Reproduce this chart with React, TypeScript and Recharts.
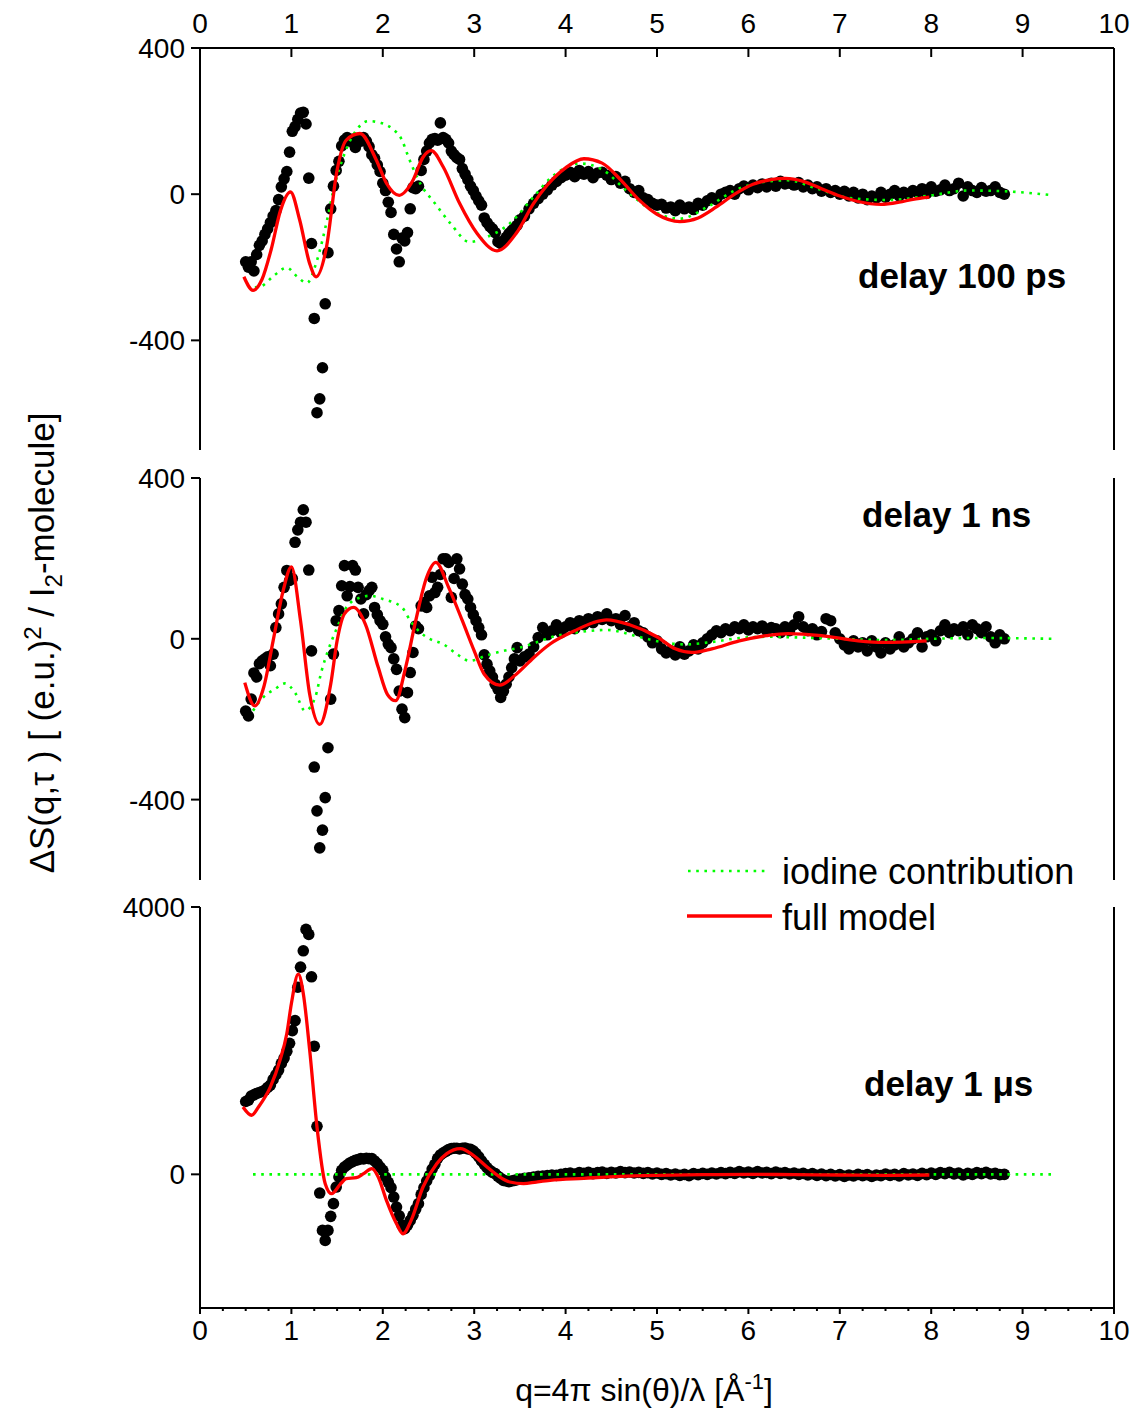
import React from 'react';
import { ComposedChart, Scatter, Line, XAxis, YAxis, ReferenceLine } from 'recharts';

const FONT = '"Liberation Sans", Arial, Helvetica, sans-serif';

// measured q grid (1/Å), shared by the three delays
const qData = [
  0.50, 0.53, 0.56, 0.59, 0.62, 0.65, 0.68, 0.71, 0.74, 0.77,
  0.80, 0.83, 0.86, 0.89, 0.92, 0.95, 0.98, 1.01, 1.04, 1.07,
  1.10, 1.13, 1.16, 1.19, 1.22, 1.25, 1.28, 1.31, 1.34, 1.37,
  1.40, 1.43, 1.46, 1.49, 1.52, 1.55, 1.58, 1.61, 1.64, 1.67,
  1.70, 1.73, 1.76, 1.79, 1.82, 1.85, 1.88, 1.91, 1.94, 1.97,
  2.00, 2.03, 2.06, 2.09, 2.12, 2.15, 2.18, 2.21, 2.24, 2.27,
  2.30, 2.33, 2.36, 2.39, 2.42, 2.45, 2.48, 2.51, 2.54, 2.57,
  2.60, 2.63, 2.66, 2.69, 2.72, 2.75, 2.78, 2.81, 2.84, 2.87,
  2.90, 2.93, 2.96, 2.99, 3.02, 3.05, 3.08, 3.11, 3.14, 3.17,
  3.20, 3.23, 3.26, 3.29, 3.32, 3.35, 3.38, 3.41, 3.44, 3.47,
  3.50, 3.55, 3.60, 3.65, 3.70, 3.75, 3.80, 3.85, 3.90, 3.95,
  4.00, 4.05, 4.10, 4.15, 4.20, 4.25, 4.30, 4.35, 4.40, 4.45,
  4.50, 4.55, 4.60, 4.65, 4.70, 4.75, 4.80, 4.85, 4.90, 4.95,
  5.00, 5.05, 5.10, 5.15, 5.20, 5.25, 5.30, 5.35, 5.40, 5.45,
  5.50, 5.55, 5.60, 5.65, 5.70, 5.75, 5.80, 5.85, 5.90, 5.95,
  6.00, 6.05, 6.10, 6.15, 6.20, 6.25, 6.30, 6.35, 6.40, 6.45,
  6.50, 6.55, 6.60, 6.65, 6.70, 6.75, 6.80, 6.85, 6.90, 6.95,
  7.00, 7.05, 7.10, 7.15, 7.20, 7.25, 7.30, 7.35, 7.40, 7.45,
  7.50, 7.55, 7.60, 7.65, 7.70, 7.75, 7.80, 7.85, 7.90, 7.95,
  8.00, 8.05, 8.10, 8.15, 8.20, 8.25, 8.30, 8.35, 8.40, 8.45,
  8.50, 8.55, 8.60, 8.65, 8.70, 8.75, 8.80,
];

const delay100ps = [
  -185, -200, -185, -210, -165, -140, -128, -110, -95, -78,
  -60, -45, -15, 20, 42, 62, 115, 172, 185, 205,
  222, 224, 192, 44, -135, -340, -598, -560, -475, -300,
  -160, -40, 22, 65, 90, 132, 148, 155, 145, 150,
  128, 150, 145, 155, 145, 130, 108, 98, 80, 62,
  30, 10, -22, -50, -110, -150, -185, -120, -128, -105,
  -40, 18, 15, 22, 65, 95, 118, 140, 150, 152,
  148, 195, 155, 150, 140, 118, 108, 100, 95, 70,
  55, 40, 22, 10, -5, -18, -30, -65, -78, -88,
  -95, -105, -130, -135, -128, -118, -108, -100, -92, -85,
  -70, -60, -40, -25, -12, 0, 12, 25, 35, 45,
  52, 60, 48, 65, 55, 62, 45, 58, 60, 52,
  40, 48, 30, 35, 15, 5, 10, -10, -15, -25,
  -30, -28, -38, -35, -45, -30, -40, -35, -42, -25,
  -30, -18, -10, -15, 0, 5, 10, 0, 15, 22,
  12, 25, 18, 28, 20, 30, 22, 35, 28, 30,
  25, 32, 20, 25, 15, 20, 8, 15, 5, 10,
  0, 8, -5, 5, -10, 0, -15, -5, -10, 5,
  -8, 0, 10, -5, 5, 0, 10, 5, 15, 2,
  20, 8, 12, 25, 10, 15, 30, -5, 20, 10,
  5, 18, 8, 10, 20, 5, 0,
];

const delay1ns = [
  -180, -192, -150, -85, -95, -62, -55, -50, -45, -67,
  -38, 28, 62, 87, 128, 170, 145, 150, 240, 271,
  290, 321, 290, 171, -30, -319, -428, -520, -476, -395,
  -271, -150, -38, 45, 70, 132, 182, 107, 130, 182,
  171, 128, 99, 62, 110, 120, 128, 78, 60, 45,
  36, 5, -13, -22, -50, -76, -130, -175, -196, -134,
  -84, -34, 32, 25, 82, 90, 78, 107, 153, 115,
  128, 160, 199, 199, 190, 103, 150, 199, 174, 136,
  110, 99, 78, 60, 45, 28, 10, -40, -63, -80,
  -95, -113, -125, -146, -130, -113, -95, -72, -50, -22,
  -55, -45, -38, -20, 3, 28, 10, 20, 35, 15,
  30, 40, 25, 45, 35, 50, 40, 55, 48, 62,
  45, 50, 35, 58, 30, 40, 20, 15, 5, -10,
  -5, -25, -35, -30, -40, -20, -38, -30, -15, -25,
  -10, 0, 10, 20, 15, 25, 20, 30, 25, 35,
  22, 30, 25, 32, 20, 28, 25, 15, 30, 20,
  35, 55, 30, 20, 25, 10, 18, 50, 45, 15,
  0, -15, -25, -5, -20, -10, -30, -5, -20, -35,
  -10, -25, -15, 5, -20, -10, 0, 15, -20, 5,
  10, -5, 20, 35, 15, 25, 20, 30, 10, 35,
  25, 15, 30, 5, -10, 10, 0,
];

const delay1us = [
  1090, 1110, 1170, 1190, 1210, 1225, 1240, 1260, 1300, 1335,
  1420, 1490, 1560, 1660, 1740, 1840, 1960, 2150, 2300, 2800,
  3100, 3345, 3665, 3590, 2956, 1917, 719, -280, -839, -989,
  -839, -629, -439, -190, -40, 60, 110, 140, 170, 190,
  210, 220, 235, 230, 240, 235, 235, 200, 160, 110,
  60, -40, -120, -200, -340, -490, -620, -760, -814, -760,
  -690, -614, -520, -439, -300, -200, -100, -20, 80, 150,
  240, 290, 320, 345, 370, 385, 390, 390, 380, 390,
  395, 380, 375, 350, 310, 260, 200, 150, 100, 60,
  30, 10, -30, -60, -90, -100, -110, -100, -90, -80,
  -70, -60, -50, -40, -30, -25, -20, -10, -15, 0,
  10, 20, 5, 25, 15, 30, 10, 25, 35, 15,
  30, 20, 40, 25, 35, 20, 30, 15, 25, 5,
  20, 0, 10, -10, 5, -15, 0, -20, 10, -5,
  15, 0, 20, 5, 25, 10, 30, 15, 40, 20,
  35, 15, 40, 20, 30, 10, 35, 15, 25, 5,
  20, 0, 15, -10, 10, -15, 5, -20, 0, -25,
  -5, -30, -10, -25, 0, -20, -5, -30, -10, -20,
  5, -15, 0, -25, 10, -10, 5, -15, 15, -5,
  20, 0, 25, 10, 30, 5, 20, -10, 15, 0,
  25, 10, 30, 5, 15, -5, 0,
];

// full model curves [q, value]
const model100ps: [number, number][] = [
  [0.48, -226], [0.58, -263], [0.68, -232], [0.78, -150], [0.88, -45], [0.99, 6],
  [1.09, -70], [1.20, -190], [1.27, -226], [1.38, -150], [1.50, 66], [1.60, 148],
  [1.75, 166], [1.93, 93], [2.04, 30], [2.18, -3], [2.33, 38], [2.44, 101],
  [2.53, 119], [2.66, 75], [2.84, -25], [3.03, -107], [3.25, -155], [3.46, -107],
  [3.65, -25], [3.80, 25], [4.00, 72], [4.20, 97], [4.40, 85], [4.60, 40],
  [4.80, -15], [5.00, -55], [5.25, -75], [5.45, -65], [5.65, -35], [5.85, 0],
  [6.05, 27], [6.25, 40], [6.40, 43], [6.60, 35], [6.80, 15], [7.00, -5],
  [7.20, -20], [7.45, -28], [7.65, -22], [7.80, -14], [7.98, -8],
];

const model1ns: [number, number][] = [
  [0.49, -109], [0.60, -167], [0.70, -118], [0.80, -5], [0.91, 120], [1.00, 179],
  [1.10, 45], [1.20, -138], [1.31, -213], [1.43, -113], [1.50, -5], [1.58, 62],
  [1.68, 78], [1.81, 36], [1.95, -71], [2.05, -138], [2.14, -154], [2.25, -71],
  [2.36, 45], [2.48, 153], [2.58, 190], [2.72, 128], [2.87, 45], [3.00, -30],
  [3.11, -88], [3.28, -115], [3.46, -88], [3.65, -47], [3.83, -13], [4.10, 20],
  [4.30, 40], [4.45, 47], [4.70, 35], [5.00, 5], [5.20, -25], [5.38, -34],
  [5.60, -25], [5.90, -5], [6.20, 8], [6.43, 13], [6.80, 8], [7.20, -5],
  [7.48, -9], [7.95, -5],
];

const model1us: [number, number][] = [
  [0.47, 1008], [0.565, 884], [0.64, 1008], [0.77, 1308], [0.875, 1708], [0.95, 2108],
  [1.00, 2557], [1.075, 2996], [1.13, 2707], [1.20, 1858], [1.28, 709], [1.37, -140],
  [1.44, -290], [1.54, -140], [1.60, -65], [1.71, -50], [1.79, 10], [1.88, 85],
  [1.95, -40], [2.04, -390], [2.15, -739], [2.22, -889], [2.31, -689], [2.44, -190],
  [2.59, 160], [2.70, 310], [2.85, 385], [2.99, 285], [3.14, 110], [3.28, -40],
  [3.39, -115], [3.54, -140], [3.68, -115], [3.83, -90], [4.20, -60], [4.60, -30],
  [5.00, -15], [5.50, -5], [6.00, 0], [6.50, -5], [7.00, -10], [7.50, -15], [7.98, -10],
];

// iodine contribution curves [q, value]
const iodine100ps: [number, number][] = [
  [0.60, -255], [0.67, -252], [0.80, -225], [0.95, -201], [1.06, -225], [1.17, -243],
  [1.28, -181], [1.39, -71], [1.46, 11], [1.58, 110], [1.71, 175], [1.84, 200],
  [1.98, 195], [2.10, 180], [2.21, 148], [2.28, 102], [2.41, 29], [2.57, -25],
  [2.74, -80], [2.95, -131], [3.14, -117], [3.39, -80], [3.65, -7], [3.84, 45],
  [4.16, 84], [4.41, 66], [4.66, 11], [4.95, -45], [5.25, -67], [5.55, -35],
  [5.85, 10], [6.15, 33], [6.43, 38], [6.75, 15], [7.10, -10], [7.53, -16],
  [8.00, -3], [8.40, 10], [8.80, 8], [9.33, -3],
];

const iodine1ns: [number, number][] = [
  [0.58, -179], [0.69, -146], [0.82, -125], [0.93, -111], [1.04, -134], [1.15, -179],
  [1.26, -146], [1.33, -80], [1.40, -30], [1.50, 28], [1.59, 74], [1.71, 99],
  [1.86, 107], [2.00, 99], [2.21, 78], [2.30, 45], [2.41, 16], [2.52, -1],
  [2.66, -13], [2.81, -38], [2.95, -55], [3.13, -42], [3.32, -30], [3.50, -22],
  [3.68, -9], [3.83, 3], [4.10, 15], [4.45, 22], [4.80, 5], [5.05, -8],
  [5.30, -14], [5.60, -8], [5.90, 2], [6.20, 5], [6.60, 3], [7.00, 0],
  [7.50, -3], [8.00, 0], [8.50, 2], [9.33, 0],
];

const iodine1us: [number, number][] = [[0.58, 0], [9.33, 0]];

const xMajorTicks = [0, 1, 2, 3, 4, 5, 6, 7, 8, 9, 10];
const xBottomTicks = xMajorTicks.flatMap((t) => (t < 10 ? [t, t + 0.25, t + 0.5, t + 0.75] : [t]));

const toPoints = (vs: number[]) => qData.map((q, i) => ({ q, v: vs[i] }));
const toCurve = (pairs: [number, number][]) => pairs.map(([q, v]) => ({ q, v }));

const TopTick = (props: any) => {
  const { x, y, payload } = props;
  return (
    <g>
      <line x1={x} x2={x} y1={y} y2={y + 9} stroke="#000" strokeWidth={2} />
      <text x={x} y={y - 15} textAnchor="middle" fontSize={28} fontFamily={FONT} fill="#000">
        {payload.value}
      </text>
    </g>
  );
};

const BottomTick = (props: any) => {
  const { x, y, payload } = props;
  const major = Number.isInteger(payload.value);
  return (
    <g>
      <line x1={x} x2={x} y1={y} y2={y + (major ? 6 : 3)} stroke="#000" strokeWidth={2} />
      {major && (
        <text x={x} y={y + 32} textAnchor="middle" fontSize={28} fontFamily={FONT} fill="#000">
          {payload.value}
        </text>
      )}
    </g>
  );
};

const LeftTick = (props: any) => {
  const { x, y, payload } = props;
  return (
    <g>
      <line x1={x - 9} x2={x} y1={y} y2={y} stroke="#000" strokeWidth={2} />
      <text x={x - 15} y={y + 10} textAnchor="end" fontSize={28} fontFamily={FONT} fill="#000">
        {payload.value}
      </text>
    </g>
  );
};

const Dot = (props: any) => <circle cx={props.cx} cy={props.cy} r={5.8} fill="#000" />;

type PanelProps = {
  top: number;
  plotHeight: number;
  axis: 'top' | 'bottom' | 'none';
  domain: [number, number];
  yTicks: number[];
  dots: number[];
  iodine: [number, number][];
  model: [number, number][];
};

// headroom above the plot so the top y tick label is not clipped
const PAD = 20;

const Panel: React.FC<PanelProps> = ({ top, plotHeight, axis, domain, yTicks, dots, iodine, model }) => {
  const axisH = axis === 'top' ? 48 : axis === 'bottom' ? 60 : 0;
  const padTop = axis === 'top' ? 0 : PAD;
  return (
    <div style={{ position: 'absolute', left: 0, top: top - padTop }}>
      <ComposedChart
        width={1137}
        height={plotHeight + axisH + padTop}
        margin={{ top: padTop, right: 23, bottom: 0, left: 0 }}
      >
        <XAxis
          type="number"
          dataKey="q"
          domain={[0, 10]}
          allowDataOverflow
          orientation={axis === 'top' ? 'top' : 'bottom'}
          hide={axis === 'none'}
          height={axis === 'top' ? 48 : 60}
          ticks={axis === 'top' ? xMajorTicks : xBottomTicks}
          interval={0}
          tickLine={false}
          tickSize={0}
          tickMargin={0}
          tick={axis === 'top' ? <TopTick /> : <BottomTick />}
          axisLine={{ stroke: '#000', strokeWidth: 2 }}
        />
        <YAxis
          type="number"
          dataKey="v"
          domain={domain}
          allowDataOverflow
          ticks={yTicks}
          interval={0}
          width={200}
          tickLine={false}
          tickSize={0}
          tickMargin={0}
          tick={<LeftTick />}
          axisLine={{ stroke: '#000', strokeWidth: 2 }}
        />
        <ReferenceLine x={10} stroke="#000" strokeWidth={2} />
        <Scatter data={toPoints(dots)} dataKey="v" shape={<Dot />} isAnimationActive={false} />
        <Line
          data={toCurve(iodine)}
          dataKey="v"
          type="monotone"
          stroke="#00ff00"
          strokeWidth={2.6}
          strokeDasharray="2.6 5.6"
          dot={false}
          activeDot={false}
          isAnimationActive={false}
          zIndex={700}
        />
        <Line
          data={toCurve(model)}
          dataKey="v"
          type="monotone"
          stroke="#ff0000"
          strokeWidth={3.3}
          dot={false}
          activeDot={false}
          isAnimationActive={false}
          zIndex={710}
        />
      </ComposedChart>
    </div>
  );
};

const App: React.FC = () => (
  <div style={{ position: 'absolute', left: 0, top: 0, width: 1137, height: 1414, background: '#fff' }}>
    <Panel top={0} plotHeight={402} axis="top" domain={[-700, 400]} yTicks={[-400, 0, 400]}
      dots={delay100ps} iodine={iodine100ps} model={model100ps} />
    <Panel top={478} plotHeight={402} axis="none" domain={[-600, 400]} yTicks={[-400, 0, 400]}
      dots={delay1ns} iodine={iodine1ns} model={model1ns} />
    <Panel top={907} plotHeight={401} axis="bottom" domain={[-2000, 4000]} yTicks={[0, 4000]}
      dots={delay1us} iodine={iodine1us} model={model1us} />

    <svg width={1137} height={1414} style={{ position: 'absolute', left: 0, top: 0, pointerEvents: 'none' }}
      fontFamily={FONT} fill="#000">
      <text transform="rotate(-90)" x={-643} y={54} textAnchor="middle" fontSize={35}>
        ΔS(q,τ ) [ (e.u.)<tspan dy={-13} fontSize={24}>2</tspan>
        <tspan dy={13}> / I</tspan>
        <tspan dy={8} fontSize={24}>2</tspan>
        <tspan dy={-8}>-molecule]</tspan>
      </text>
      <text x={644} y={1401} textAnchor="middle" fontSize={32}>
        q=4π sin(θ)/λ [Å<tspan dy={-12} fontSize={22}>-1</tspan>
        <tspan dy={12}>]</tspan>
      </text>

      <text x={858} y={288} fontSize={35} fontWeight="bold">delay 100 ps</text>
      <text x={862} y={527} fontSize={35} fontWeight="bold">delay 1 ns</text>
      <text x={864} y={1096} fontSize={35} fontWeight="bold">delay 1 μs</text>

      <line x1={688} x2={766} y1={871} y2={871} stroke="#00ff00" strokeWidth={2.6} strokeDasharray="2.6 5.6" />
      <text x={782} y={884} fontSize={36}>iodine contribution</text>
      <line x1={687} x2={772} y1={916} y2={916} stroke="#ff0000" strokeWidth={3.3} />
      <text x={782} y={930} fontSize={36}>full model</text>
    </svg>
  </div>
);

export default App;
